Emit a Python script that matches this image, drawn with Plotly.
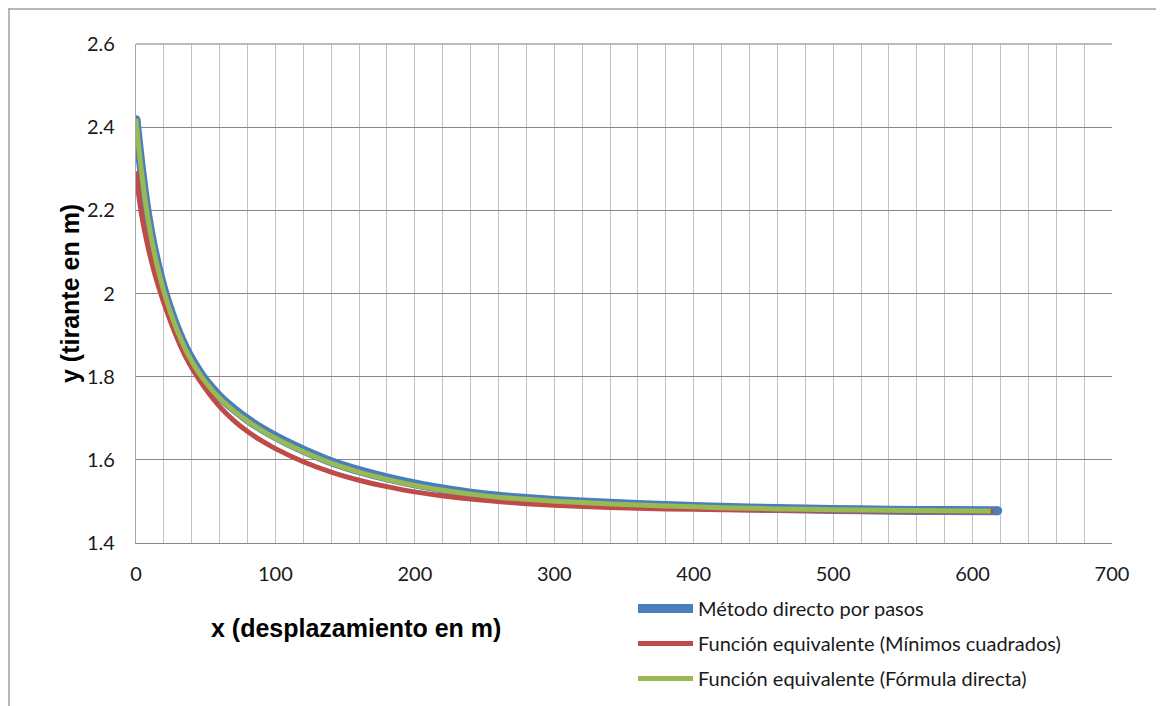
import plotly.graph_objects as go

# ---- data ----
blue_name = "Método directo por pasos"
red_name = "Función equivalente (Mínimos cuadrados)"
green_name = "Función equivalente (Fórmula directa)"

blue_x = [0, 2, 4, 7, 10, 13, 16, 20, 25, 30, 36, 42, 47, 54, 60, 70, 80, 90, 100, 110,
          120, 140, 160, 180, 200, 220, 240, 260, 280, 300, 340, 380, 420, 460, 500, 540,
          580, 618]
blue_y = [2.418, 2.356, 2.297, 2.219, 2.157, 2.105, 2.061, 2.009, 1.956, 1.911, 1.866, 1.830,
          1.804, 1.774, 1.752, 1.7225, 1.697, 1.675, 1.656, 1.639, 1.6235, 1.5955, 1.574,
          1.5565, 1.542, 1.530, 1.520, 1.5125, 1.507, 1.5025, 1.4955, 1.490, 1.486, 1.483,
          1.4808, 1.479, 1.478, 1.4775]

red_x = [0, 2, 4, 7, 10, 13, 17, 22, 28, 35, 42, 50, 60, 70, 80, 90, 100, 120, 140, 160,
         180, 200, 240, 280, 300, 340, 380, 420, 460, 500, 560, 615]
red_y = [2.294, 2.236, 2.190, 2.137, 2.092, 2.053, 2.008, 1.958, 1.905, 1.852, 1.810, 1.770,
         1.728, 1.695, 1.668, 1.646, 1.627, 1.5955, 1.5705, 1.551, 1.5355, 1.523, 1.5055,
         1.4945, 1.4905, 1.4855, 1.482, 1.480, 1.4785, 1.4775, 1.4765, 1.476]

green_x = [0, 2, 4, 7, 10, 13, 16, 20, 25, 30, 36, 42, 47, 54, 60, 70, 80, 90, 100, 110,
           120, 140, 160, 180, 200, 220, 240, 260, 280, 300, 340, 380, 420, 460, 500, 540,
           580, 613]
green_y = [2.420, 2.352, 2.292, 2.214, 2.152, 2.100, 2.056, 2.005, 1.952, 1.907, 1.862, 1.826,
           1.800, 1.770, 1.748, 1.7185, 1.693, 1.671, 1.652, 1.635, 1.6195, 1.592, 1.5705,
           1.553, 1.5385, 1.527, 1.5175, 1.510, 1.505, 1.5007, 1.494, 1.489, 1.485, 1.482,
           1.480, 1.4785, 1.4775, 1.477]

x_ticks = [0, 100, 200, 300, 400, 500, 600, 700]
y_ticks = [1.4, 1.6, 1.8, 2.0, 2.2, 2.4, 2.6]
y_ticktext = ["1.4", "1.6", "1.8", "2", "2.2", "2.4", "2.6"]
x_title = "x (desplazamiento en m)"
y_title = "y (tirante en m)"

BLUE = "#4a7ebb"
RED = "#be4b48"
GREEN = "#98b954"
TICK_FONT = "Lato, Carlito, Calibri, sans-serif"
TITLE_FONT = "Liberation Sans, Arial, sans-serif"

fig = go.Figure()
fig.add_trace(go.Scatter(x=blue_x, y=blue_y, mode="lines", name=blue_name,
                         line=dict(color=BLUE, width=9, shape="spline", smoothing=0.6),
                         legendgroup="a"))
fig.add_trace(go.Scatter(x=[blue_x[0], blue_x[-1]], y=[blue_y[0], blue_y[-1]], mode="markers",
                         marker=dict(color=BLUE, size=9, line=dict(width=0)),
                         showlegend=False, hoverinfo="skip"))
fig.add_trace(go.Scatter(x=red_x, y=red_y, mode="lines", name=red_name,
                         line=dict(color=RED, width=5, shape="spline", smoothing=0.6),
                         legendgroup="b"))
fig.add_trace(go.Scatter(x=green_x, y=green_y, mode="lines", name=green_name,
                         line=dict(color=GREEN, width=5, shape="spline", smoothing=0.6),
                         legendgroup="c"))

W, H = 1164, 706
OFF = 8  # page body margin
ml, mr, mt, mb = 128, 60, 36, 171
pw, ph = W - ml - mr, H - mt - mb


def px(xpage):
    return (xpage - OFF - ml) / pw


def py(ypage):
    return (H - mb - (ypage - OFF)) / ph


fig.update_layout(
    width=W, height=H,
    margin=dict(l=ml, r=mr, t=mt, b=mb),
    paper_bgcolor="white", plot_bgcolor="white",
    showlegend=True,
    legend=dict(x=px(633), y=py(589), xanchor="left", yanchor="top",
                font=dict(family=TICK_FONT, size=20, color="#1a1a1a"),
                tracegroupgap=6, itemwidth=55, bgcolor="rgba(0,0,0,0)"),
    xaxis=dict(range=[0, 700], tickvals=x_ticks, ticktext=[str(v) for v in x_ticks],
               showgrid=True, gridcolor="#c0c0c0", gridwidth=1.3,
               minor=dict(dtick=20, showgrid=True, gridcolor="#c0c0c0", gridwidth=1.3),
               showline=True, linecolor="#868686", linewidth=1.3, mirror=False,
               ticks="outside", ticklen=13, tickcolor="rgba(0,0,0,0)",
               tickfont=dict(family=TICK_FONT, size=20, color="#1a1a1a"), zeroline=False),
    yaxis=dict(range=[1.4, 2.6], tickvals=y_ticks, ticktext=y_ticktext,
               showgrid=True, gridcolor="#868686", gridwidth=1.3,
               showline=True, linecolor="#a6a6a6", linewidth=1.3,
               ticks="outside", ticklen=16, tickcolor="rgba(0,0,0,0)",
               tickfont=dict(family=TICK_FONT, size=20, color="#1a1a1a"), zeroline=False),
    annotations=[
        dict(text="<b>" + x_title + "</b>", x=px(356), y=py(628), xref="paper", yref="paper",
             showarrow=False, xanchor="center", yanchor="middle",
             font=dict(family=TITLE_FONT, size=25, color="black")),
        dict(text="<b>" + y_title + "</b>", x=px(70), y=py(294), xref="paper", yref="paper",
             showarrow=False, xanchor="center", yanchor="middle", textangle=-90,
             font=dict(family=TITLE_FONT, size=25, color="black")),
    ],
    shapes=[
        dict(type="line", xref="paper", yref="paper", x0=px(8), x1=px(1180), y0=py(9), y1=py(9),
             line=dict(color="#a0a0a0", width=1.5)),
        dict(type="line", xref="paper", yref="paper", x0=px(9), x1=px(9), y0=py(9), y1=py(720),
             line=dict(color="#a0a0a0", width=1.5)),
        dict(type="line", xref="paper", yref="paper", x0=0, x1=1, y0=1, y1=1,
             line=dict(color="#a6a6a6", width=1.3)),
    ],
)

fig.write_html("out.html")
